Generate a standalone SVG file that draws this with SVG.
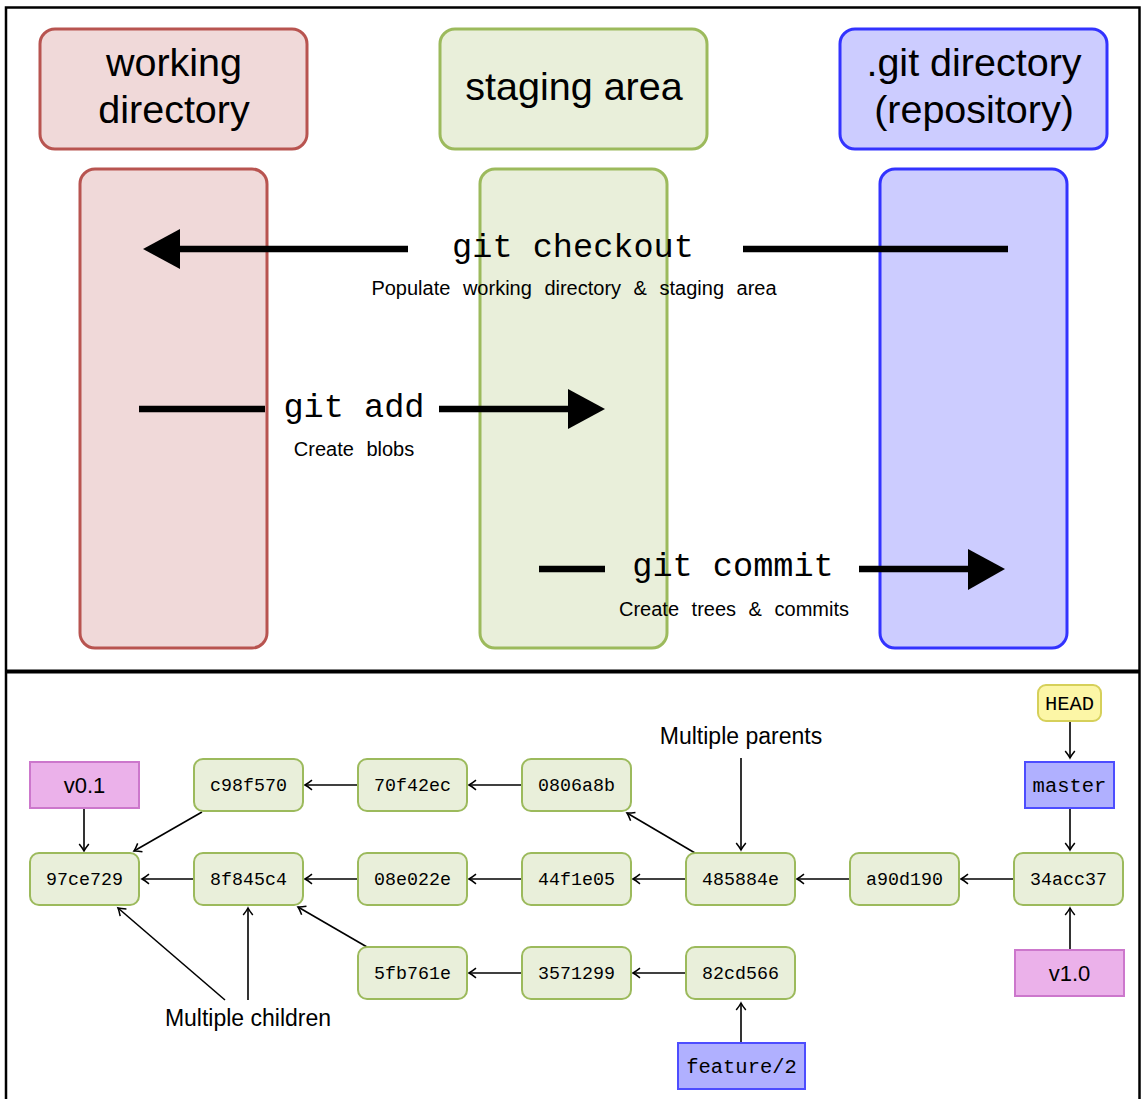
<svg xmlns="http://www.w3.org/2000/svg" width="1141" height="1099" viewBox="0 0 1141 1099">
<style>
.sans{font-family:"Liberation Sans",Arial,sans-serif;fill:#000}
.mono{font-family:"Liberation Mono","Courier New",monospace;fill:#000}
.hdr{font-size:39.5px;text-anchor:middle}
.cmd{font-size:33.6px;text-anchor:middle}
.sub{font-size:20px;text-anchor:middle;word-spacing:7px}
.red{fill:#f0d9d9;stroke:#b85450;stroke-width:3}
.grn{fill:#e9efda;stroke:#9cba5c;stroke-width:3}
.blu{fill:#ccccff;stroke:#3333ff;stroke-width:3}
.commit rect{fill:#e9efda;stroke:#9cba5c;stroke-width:2}
.commit text{font-family:"Liberation Mono","Courier New",monospace;font-size:18.3px;text-anchor:middle}
.tag rect{fill:#ebb1ea;stroke:#cc77cc;stroke-width:2}
.tag text{font-family:"Liberation Sans",Arial,sans-serif;font-size:22px;text-anchor:middle}
.branch rect{fill:#b0b0ff;stroke:#4d4dff;stroke-width:2}
.branch text,.head text{font-family:"Liberation Mono","Courier New",monospace;font-size:20.5px;text-anchor:middle}
.head rect{fill:#fcf6a6;stroke:#d6d05a;stroke-width:2}
.big{stroke:#000;stroke-width:6.5;fill:none}
.thin{stroke:#000;stroke-width:1.6;fill:none;marker-end:url(#ah)}
.note{font-family:"Liberation Sans",Arial,sans-serif;font-size:23px;text-anchor:middle}
</style>
<defs>
<marker id="ah" markerUnits="userSpaceOnUse" markerWidth="14" markerHeight="14" viewBox="-10 -7 12 14" refX="0" refY="0" orient="auto">
<path d="M-7,-4.8 Q-2.5,-1.2 0,0 Q-2.5,1.2 -7,4.8" fill="none" stroke="#000" stroke-width="1.5"/>
</marker>
</defs>
<rect x="0" y="0" width="1141" height="1099" fill="#fff"/>
<rect x="6" y="7.5" width="1133.5" height="1100" fill="none" stroke="#000" stroke-width="2.5"/>
<line x1="6" y1="671.5" x2="1140" y2="671.5" stroke="#000" stroke-width="4"/>

<g id="working-directory">
<rect class="red" x="40" y="29" width="267" height="120" rx="15"/>
<text class="sans hdr" x="174" y="76">working</text>
<text class="sans hdr" x="174" y="123">directory</text>
<rect class="red" x="80" y="169" width="187" height="479" rx="15"/>
</g>
<g id="staging-area">
<rect class="grn" x="440" y="29" width="267" height="120" rx="15"/>
<text class="sans hdr" x="574" y="100">staging area</text>
<rect class="grn" x="480" y="169" width="187" height="479" rx="15"/>
</g>
<g id="git-directory">
<rect class="blu" x="840" y="29" width="267" height="120" rx="15"/>
<text class="sans hdr" x="974" y="76">.git directory</text>
<text class="sans hdr" x="974" y="123">(repository)</text>
<rect class="blu" x="880" y="169" width="187" height="479" rx="15"/>
</g>

<g id="operations">
<line class="big" x1="743" y1="249" x2="1008" y2="249"/>
<line class="big" x1="408" y1="249" x2="178" y2="249"/>
<polygon points="143,249 180,229 180,269" fill="#000"/>
<text class="mono cmd" x="573" y="257">git checkout</text>
<text class="sans sub" x="574" y="295">Populate working directory &amp; staging area</text>

<line class="big" x1="139" y1="409" x2="265" y2="409"/>
<line class="big" x1="439" y1="409" x2="571" y2="409"/>
<polygon points="605,409 568,389 568,429" fill="#000"/>
<text class="mono cmd" x="354" y="417">git add</text>
<text class="sans sub" x="354" y="456">Create blobs</text>

<line class="big" x1="539" y1="569" x2="605" y2="569"/>
<line class="big" x1="859" y1="569" x2="970" y2="569"/>
<polygon points="1005,569 968,549 968,590" fill="#000"/>
<text class="mono cmd" x="733" y="576">git commit</text>
<text class="sans sub" x="734" y="616">Create trees &amp; commits</text>
</g>

<g id="connectors">
<line class="thin" x1="358" y1="785" x2="305" y2="785"/>
<line class="thin" x1="522" y1="785" x2="469" y2="785"/>
<line class="thin" x1="84" y1="809" x2="84" y2="851"/>
<line class="thin" x1="202" y1="812" x2="134" y2="851"/>
<line class="thin" x1="194" y1="879" x2="142" y2="879"/>
<line class="thin" x1="358" y1="879" x2="305" y2="879"/>
<line class="thin" x1="522" y1="879" x2="469" y2="879"/>
<line class="thin" x1="686" y1="879" x2="633" y2="879"/>
<line class="thin" x1="850" y1="879" x2="797" y2="879"/>
<line class="thin" x1="1014" y1="879" x2="961" y2="879"/>
<line class="thin" x1="695" y1="853" x2="627" y2="813"/>
<line class="thin" x1="741" y1="758" x2="741" y2="850"/>
<line class="thin" x1="1070" y1="722" x2="1070" y2="758"/>
<line class="thin" x1="1070" y1="809" x2="1070" y2="850"/>
<line class="thin" x1="1070" y1="949" x2="1070" y2="908"/>
<line class="thin" x1="367" y1="947" x2="298" y2="907"/>
<line class="thin" x1="522" y1="973" x2="469" y2="973"/>
<line class="thin" x1="686" y1="973" x2="633" y2="973"/>
<line class="thin" x1="741" y1="1043" x2="741" y2="1003"/>
<line class="thin" x1="225" y1="1000" x2="118" y2="908"/>
<line class="thin" x1="248" y1="1000" x2="248" y2="908"/>
</g>

<g id="c98f570" class="commit"><rect x="194" y="759" width="109" height="52" rx="9"/><text x="248.5" y="791">c98f570</text></g>
<g id="70f42ec" class="commit"><rect x="358" y="759" width="109" height="52" rx="9"/><text x="412.5" y="791">70f42ec</text></g>
<g id="0806a8b" class="commit"><rect x="522" y="759" width="109" height="52" rx="9"/><text x="576.5" y="791">0806a8b</text></g>

<g id="97ce729" class="commit"><rect x="30" y="853" width="109" height="52" rx="9"/><text x="84.5" y="885">97ce729</text></g>
<g id="8f845c4" class="commit"><rect x="194" y="853" width="109" height="52" rx="9"/><text x="248.5" y="885">8f845c4</text></g>
<g id="08e022e" class="commit"><rect x="358" y="853" width="109" height="52" rx="9"/><text x="412.5" y="885">08e022e</text></g>
<g id="44f1e05" class="commit"><rect x="522" y="853" width="109" height="52" rx="9"/><text x="576.5" y="885">44f1e05</text></g>
<g id="485884e" class="commit"><rect x="686" y="853" width="109" height="52" rx="9"/><text x="740.5" y="885">485884e</text></g>
<g id="a90d190" class="commit"><rect x="850" y="853" width="109" height="52" rx="9"/><text x="904.5" y="885">a90d190</text></g>
<g id="34acc37" class="commit"><rect x="1014" y="853" width="109" height="52" rx="9"/><text x="1068.5" y="885">34acc37</text></g>

<g id="5fb761e" class="commit"><rect x="358" y="947" width="109" height="52" rx="9"/><text x="412.5" y="979">5fb761e</text></g>
<g id="3571299" class="commit"><rect x="522" y="947" width="109" height="52" rx="9"/><text x="576.5" y="979">3571299</text></g>
<g id="82cd566" class="commit"><rect x="686" y="947" width="109" height="52" rx="9"/><text x="740.5" y="979">82cd566</text></g>

<g id="v0.1" class="tag"><rect x="30" y="762" width="109" height="46"/><text x="84.5" y="793">v0.1</text></g>
<g id="v1.0" class="tag"><rect x="1015" y="950" width="109" height="46"/><text x="1069.5" y="981">v1.0</text></g>
<g id="head" class="head"><rect x="1038" y="685" width="63" height="36" rx="8"/><text x="1069.5" y="710">HEAD</text></g>
<g id="master" class="branch"><rect x="1025" y="762" width="89" height="46"/><text x="1069.5" y="792">master</text></g>
<g id="feature-2" class="branch"><rect x="678" y="1043" width="127" height="46"/><text x="741.5" y="1073">feature/2</text></g>

<text class="note" x="741" y="744">Multiple parents</text>
<text class="note" x="248" y="1026">Multiple children</text>
</svg>
